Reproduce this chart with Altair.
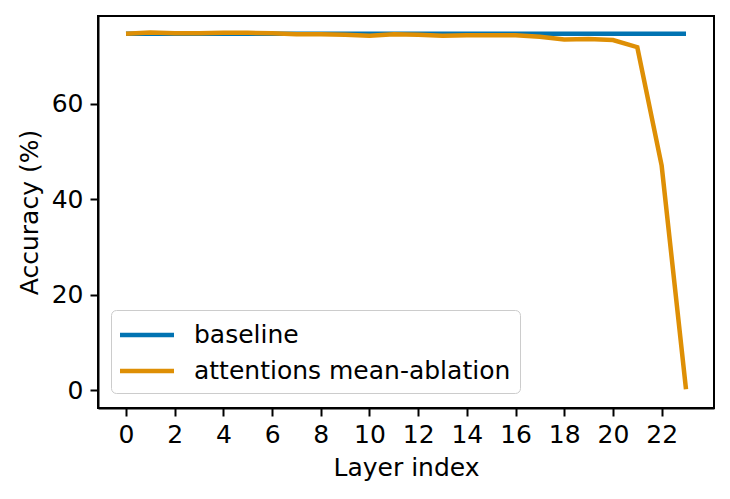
import altair as alt
import pandas as pd

layers = list(range(24))
baseline = [74.6] * 24
ablation = [74.6, 74.9, 74.7, 74.7, 74.8, 74.8, 74.7, 74.5, 74.5, 74.4, 74.2, 74.5,
            74.4, 74.2, 74.3, 74.3, 74.3, 74.0, 73.4, 73.5, 73.3, 71.8, 47.0, 0.2]
series_names = ["baseline", "attentions mean-ablation"]
series_colors = ["#0173b2", "#de8f05"]
x_ticks = list(range(0, 23, 2))
y_ticks = [0, 20, 40, 60]

rows = []
for name, vals in zip(series_names, [baseline, ablation]):
    for l, v in zip(layers, vals):
        rows.append({"layer": l, "acc": v, "series": name})
df = pd.DataFrame(rows)

FONT = "DejaVu Sans"

chart = alt.Chart(df).mark_line(strokeWidth=4.5).encode(
    x=alt.X("layer:Q", title="Layer index",
            scale=alt.Scale(domain=[-1.15, 24.15], nice=False, zero=False),
            axis=alt.Axis(values=x_ticks, grid=False, labelFlush=False, labelPadding=6)),
    y=alt.Y("acc:Q", title="Accuracy (%)",
            scale=alt.Scale(domain=[-3.73, 78.33], nice=False, zero=False),
            axis=alt.Axis(values=y_ticks, grid=False, labelPadding=7)),
    color=alt.Color("series:N",
                    scale=alt.Scale(domain=series_names, range=series_colors),
                    legend=alt.Legend(title=None, orient="none", legendX=13, legendY=294,
                                      symbolType="M-2,0H2", symbolSize=729,
                                      symbolOffset=11, symbolStrokeWidth=4.5,
                                      labelFontSize=25, labelFont=FONT, labelColor="black",
                                      labelOffset=31, rowPadding=7, padding=9,
                                      strokeColor="#cccccc", fillColor="white",
                                      cornerRadius=5, labelLimit=500)),
    order=alt.Order("layer:Q"),
).properties(
    width=616, height=392,
    autosize=alt.AutoSizeParams(type="none"),
    padding={"left": 90, "top": 8, "right": 8, "bottom": 85},
).configure_view(
    stroke="black", strokeWidth=2
).configure_axis(
    domainColor="black", domainWidth=2, tickColor="black", tickWidth=2, tickSize=8,
    labelFont=FONT, labelFontSize=25, labelColor="black",
    titleFont=FONT, titleFontSize=25, titleFontWeight="normal", titleColor="black",
).configure_axisX(titlePadding=8).configure_axisY(titlePadding=9)

chart.save("out.html", embed_options={"renderer": "svg", "actions": False})
